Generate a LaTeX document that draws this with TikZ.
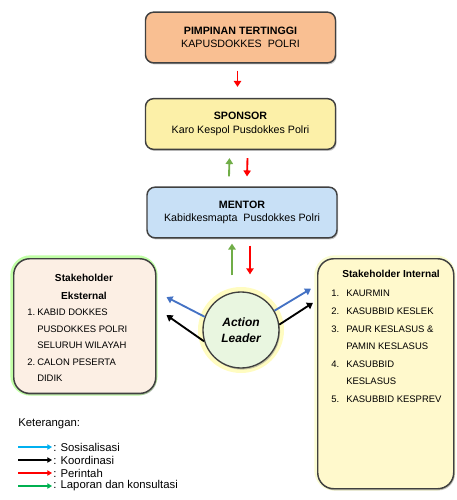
\documentclass[tikz,border=0pt]{standalone}
\usepackage{fontspec}
\setmainfont{Liberation Sans}
\usetikzlibrary{arrows.meta, positioning, calc, shadows}

\definecolor{pimpinanfill}{HTML}{F9BF92}
\definecolor{sponsorfill}{HTML}{FCF0A8}
\definecolor{mentorfill}{HTML}{C8E0F6}
\definecolor{leaderfill}{HTML}{E9F6E0}
\definecolor{eksfill}{HTML}{FCEFE4}
\definecolor{intfill}{HTML}{FFF9CC}
\definecolor{rimgray}{HTML}{404040}
\definecolor{sosblue}{HTML}{4472C4}
\definecolor{legblue}{HTML}{00B0F0}
\definecolor{lapgreen}{HTML}{70AD47}
\definecolor{leggreen}{HTML}{00B050}

\begin{document}
\begin{tikzpicture}[x=0.75pt, y=-0.75pt,
    font=\fontsize{8}{10}\selectfont,
    level/.style={rectangle, draw=rimgray, line width=1.1pt, rounded corners=6pt, align=center,
        minimum width=142.5pt, minimum height=38pt,
        drop shadow={shadow xshift=0.8pt, shadow yshift=-1.2pt, opacity=0.45}},
    holder/.style={rectangle, draw=rimgray, line width=1.1pt, rounded corners=12pt, anchor=north west,
        drop shadow={shadow xshift=0.8pt, shadow yshift=-1.2pt, opacity=0.45}},
    glow/.style={line width=4pt, opacity=0.35, rounded corners=13pt},
    entry/.style={anchor=west, inner sep=0pt, font=\fontsize{7.1}{9}\selectfont},
    heading/.style={font=\fontsize{7.6}{9}\selectfont\bfseries},
    arw/.style={line width=1.4pt, -{Triangle[length=4.5pt, width=5.5pt]}},
    sos/.style={arw, sosblue},
    koord/.style={arw, black},
    perintah/.style={arw, red},
    lapor/.style={arw, lapgreen},
    legarw/.style={line width=0.9pt, -{Triangle[length=3.5pt, width=4pt]}}
]
\useasboundingbox (0,0) rectangle (457,500);

% hierarchy
\node[level, fill=pimpinanfill] (pimpinan) at (240.5,37.5) {\textbf{PIMPINAN TERTINGGI}\\KAPUSDOKKES\ \ POLRI};
\node[level, fill=sponsorfill] (sponsor) at (240.5,124) {\textbf{SPONSOR}\\Karo Kespol Pusdokkes Polri};
\node[level, fill=mentorfill] (mentor) at (242,212.5) {\textbf{MENTOR}\\Kabidkesmapta\ \ Pusdokkes Polri};

% action leader
\fill[yellow!70, opacity=0.35] (241,330) circle (43);
\node[circle, draw=rimgray, line width=1pt, fill=leaderfill, minimum size=57pt, align=center,
    font=\fontsize{9}{12}\selectfont\bfseries\itshape,
    drop shadow={shadow xshift=0.8pt, shadow yshift=-1.2pt, opacity=0.45}] (leader) at (241,330) {Action\\Leader};

% stakeholders
\draw[glow, green!60!lime] (13,258) rectangle (155,393);
\node[holder, fill=eksfill, minimum width=106.5pt, minimum height=101pt] (eks) at (13,258) {};
\draw[glow, yellow!60!lime!50] (317,258) rectangle (453,488);
\node[holder, fill=intfill, minimum width=102pt, minimum height=172.5pt] (int) at (317,258) {};

\node[heading] (ekstitle1) at (84,278) {Stakeholder};
\node[heading] (ekstitle2) at (84,296) {Eksternal};
\node[entry] (eks1) at (27,312) {1.};
\node[entry] (eks1a) at (37,312) {KABID DOKKES};
\node[entry] (eks1b) at (37,329) {PUSDOKKES POLRI};
\node[entry] (eks1c) at (37,345) {SELURUH WILAYAH};
\node[entry] (eks2) at (27,362) {2.};
\node[entry] (eks2a) at (37,362) {CALON PESERTA};
\node[entry] (eks2b) at (37,378) {DIDIK};

\node[heading] (inttitle) at (391,274) {Stakeholder Internal};
\node[entry] (int1) at (331,293) {1.};
\node[entry] (int1a) at (346,293) {KAURMIN};
\node[entry] (int2) at (331,311) {2.};
\node[entry] (int2a) at (346,311) {KASUBBID KESLEK};
\node[entry] (int3) at (331,329) {3.};
\node[entry] (int3a) at (346,329) {PAUR KESLASUS \&};
\node[entry] (int3b) at (346,346) {PAMIN KESLASUS};
\node[entry] (int4) at (331,364) {4.};
\node[entry] (int4a) at (346,364) {KASUBBID};
\node[entry] (int4b) at (346,381) {KESLASUS};
\node[entry] (int5) at (331,399) {5.};
\node[entry] (int5a) at (346,399) {KASUBBID KESPREV};

% connectors
\draw[perintah] ($(pimpinan.south)+(-3,7)$) -- ($(sponsor.north)+(-3,-11)$);
\draw[lapor] ($(mentor.north)+(-13,-10)$) -- ($(sponsor.south)+(-11,8)$);
\draw[perintah] ($(sponsor.south)+(7,8)$) -- ($(mentor.north)+(5,-10)$);
\draw[lapor] ($(leader.north)+(-9,-16)$) -- ($(mentor.south)+(-10,5)$);
\draw[perintah] ($(mentor.south)+(8,7)$) -- ($(leader.north)+(9,-17)$);

\draw[sos] (leader.160) -- ($(eks.east)+(10,-29)$);
\draw[koord] (leader.197) -- ($(eks.east)+(10,-11)$);
\draw[sos] (leader.30) -- ($(int.west)+(-6,-85)$);
\draw[koord] (leader.8) -- ($(int.west)+(-4,-71)$);

% legend
\node[anchor=west, inner sep=0pt, font=\fontsize{8.5}{10}\selectfont] (legtitle) at (18,424) {Keterangan:};
\coordinate (lega) at (18,447);
\coordinate (legb) at (18,460);
\coordinate (legc) at (18,473);
\coordinate (legd) at (18,486);
\foreach \c/\n/\t in {legblue/lega/Sosisalisasi, black/legb/Koordinasi, red/legc/Perintah, leggreen/legd/Laporan dan konsultasi}{
  \draw[legarw, \c] (\n) -- ++(34,0) coordinate (\n-end);
  \node[anchor=west, inner sep=0pt, font=\fontsize{8.5}{10}\selectfont] at ($(\n-end)+(1,0)$) {: \t};
}
\end{tikzpicture}
\end{document}
